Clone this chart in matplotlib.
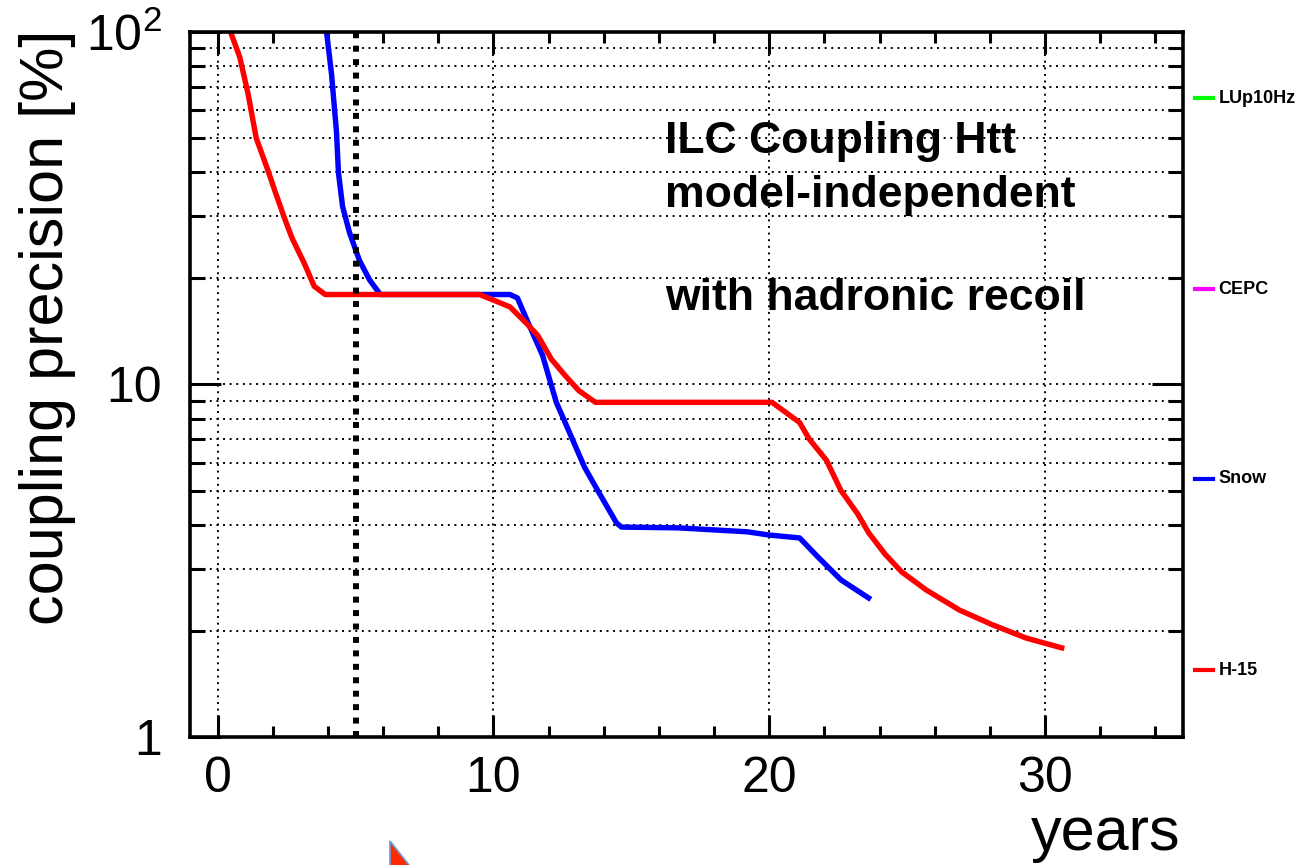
import matplotlib
matplotlib.use('Agg')
matplotlib.rcParams.update({'font.family': ['Liberation Sans', 'DejaVu Sans'],
                            'mathtext.fontset': 'custom',
                            'mathtext.rm': 'Liberation Sans',
                            'mathtext.it': 'Liberation Sans:italic',
                            'mathtext.bf': 'Liberation Sans:bold'})

import matplotlib.pyplot as plt
from matplotlib.ticker import MultipleLocator, LogLocator, FixedLocator, FixedFormatter, NullFormatter
from matplotlib.patches import Polygon

# H-15 scenario (red)
h15_years = [0.47, 0.8, 1.1, 1.4, 1.8, 2.1, 2.4, 2.7, 3.15, 3.5, 3.9, 9.5, 10.2, 10.6, 11.2, 11.6,
             12.1, 12.6, 13.1, 13.7, 20.1, 21.1, 21.45, 22.07, 22.6, 23.2, 23.6, 24.2, 24.8, 25.7,
             26.9, 28.1, 29.3, 30.6]
h15_prec = [100, 85, 67, 50, 41, 35, 30, 26, 22, 19, 18, 18, 17.1, 16.6, 14.9, 13.8,
            11.8, 10.6, 9.6, 8.9, 8.9, 7.8, 7.0, 6.1, 5.0, 4.3, 3.8, 3.3, 2.94, 2.61,
            2.29, 2.08, 1.91, 1.79]

# Snowmass scenario (blue)
snow_years = [3.95, 4.13, 4.31, 4.38, 4.53, 4.78, 5.14, 5.51, 5.9, 10.6, 10.87, 11.3, 11.78,
              12.28, 12.75, 13.3, 13.77, 14.46, 14.64, 16.7, 19.2, 20.0, 21.1, 21.8, 22.6, 23.6]
snow_prec = [100, 76, 52, 40, 32, 27, 22.5, 19.8, 18, 18, 17.6, 14.7, 12.1,
             8.9, 7.33, 5.83, 5.02, 4.05, 3.94, 3.92, 3.82, 3.74, 3.67, 3.22, 2.79, 2.48]

start_year = 5

scenario_names = ['LUp10Hz', 'CEPC', 'Snow', 'H-15']
scenario_colors = ['#00ff00', '#ff00ff', '#0000ff', '#ff0000']

info_lines = ['ILC Coupling Htt', 'model-independent', 'with hadronic recoil']

xticks = [0, 10, 20, 30]
yticks = [1, 10, 100]
ytick_labels = ['1', '10', r'$\mathregular{10^{2}}$']


fig = plt.figure(figsize=(12.98, 8.65), dpi=100)
ax = fig.add_axes([0.1464, 0.148, 0.765, 0.815])

ax.plot(snow_years, snow_prec, color=scenario_colors[2], lw=3.9, zorder=2)
ax.plot(h15_years, h15_prec, color=scenario_colors[3], lw=3.9, zorder=2)
ax.axvline(start_year, color='k', lw=4.3, linestyle=(0, (1, 1.25)), zorder=3)

ax.set_yscale('log')
ax.set_xlim(-1, 35)
ax.set_ylim(1, 100)

ax.xaxis.set_major_locator(FixedLocator(xticks))
ax.xaxis.set_minor_locator(MultipleLocator(2))
ax.yaxis.set_major_locator(FixedLocator(yticks))
ax.yaxis.set_major_formatter(FixedFormatter(ytick_labels))
ax.yaxis.set_minor_locator(LogLocator(base=10, subs=range(2, 10)))
ax.yaxis.set_minor_formatter(NullFormatter())

grid_style = dict(color='k', lw=1.4, linestyle=(0, (1, 2.4)))
ax.grid(True, which='major', axis='x', **grid_style)
ax.grid(True, which='both', axis='y', **grid_style)

ax.tick_params(which='both', direction='in', top=True, right=True, width=2.2, labelsize=36)
ax.tick_params(axis='x', which='major', length=16, pad=14)
ax.tick_params(axis='x', which='minor', length=8)
ax.tick_params(axis='y', which='major', length=22, pad=20)
ax.tick_params(axis='y', which='minor', length=11)
for sp in ax.spines.values():
    sp.set_linewidth(2.6)

# text block
for txt, yb in zip(info_lines, [0.828, 0.752, 0.606]):
    ax.text(0.478, yb, txt, transform=ax.transAxes, fontsize=32, fontweight='bold',
            va='baseline', ha='left')

# scenario key outside the frame on the right
for name, col, yk in zip(scenario_names, scenario_colors, [0.906, 0.635, 0.366, 0.095]):
    ax.plot([1.012, 1.030], [yk, yk], transform=ax.transAxes, clip_on=False, color=col, lw=3)
    ax.text(1.036, yk, name, transform=ax.transAxes, fontsize=13, fontweight='bold', va='center')

fig.text(48 / 1298, 1 - 30 / 865, 'coupling precision [%]', rotation=90, ha='center', va='top',
         fontsize=44)
fig.text(1180 / 1298, 1 - 850 / 865, 'years', ha='right', va='baseline', fontsize=44)

# mouse pointer left in the screenshot
cursor = Polygon([(390 / 1298, 1 - 841 / 865), (390 / 1298, -0.01), (416 / 1298, -0.01)],
                 closed=True, transform=fig.transFigure, facecolor='#ff2a00',
                 edgecolor='#6a9ad8', lw=1.2)
fig.patches.append(cursor)

fig.savefig('out.png', dpi=100)
